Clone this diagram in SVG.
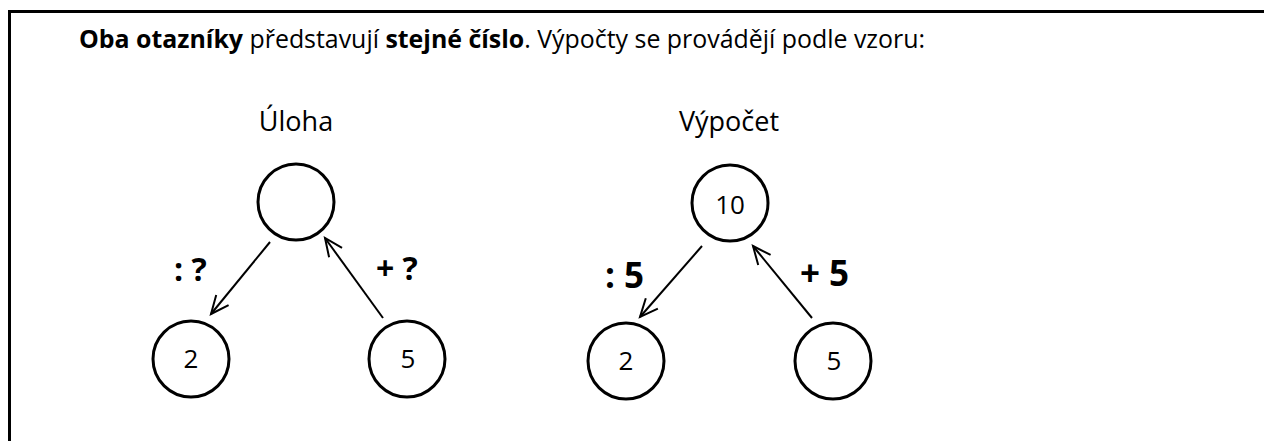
<svg xmlns="http://www.w3.org/2000/svg" width="1264" height="441" viewBox="0 0 1264 441">
<style>
text{font-family:"Open Sans","Noto Sans","DejaVu Sans",sans-serif;fill:#000}
.t{font-size:25px}
.b{font-weight:bold}
.h{font-size:27px;text-anchor:middle}
.n{font-size:26px;text-anchor:middle}
.lab{font-size:32px;font-weight:bold}
.lab2{font-size:35px;font-weight:bold}
circle{fill:#fff;stroke:#000;stroke-width:3}
.c line{stroke:#000;stroke-width:2;marker-end:url(#ah)}
</style>
<defs>
<marker id="ah" markerUnits="userSpaceOnUse" markerWidth="24" markerHeight="24" viewBox="-20 -12 24 24" refX="0" refY="0" orient="auto">
<path d="M-18,-8 L0,0 L-18,8" fill="none" stroke="#000" stroke-width="2"/>
</marker>
</defs>
<rect width="1264" height="441" fill="#fff"/>
<path d="M9.5,441 L9.5,11.5 L1264,11.5" fill="none" stroke="#000" stroke-width="3"/>
<g id="title">
<text class="t" x="79" y="48" textLength="846" lengthAdjust="spacingAndGlyphs"><tspan class="b">Oba otazníky</tspan> představují <tspan class="b">stejné číslo</tspan>. Výpočty se provádějí podle vzoru:</text>
</g>
<g id="head-uloha"><text class="h" x="296" y="131">Úloha</text></g>
<g id="head-vypocet"><text class="h" x="729" y="131">Výpočet</text></g>
<g id="u-top"><circle cx="296" cy="202" r="38"/></g>
<g id="u-left"><circle cx="191" cy="359" r="38"/><text class="n" x="191" y="368">2</text></g>
<g id="u-right"><circle cx="407" cy="359" r="38"/><text class="n" x="408" y="368">5</text></g>
<g id="v-top"><circle cx="730" cy="203" r="38"/><text class="n" x="730" y="214">10</text></g>
<g id="v-left"><circle cx="626" cy="361" r="38"/><text class="n" x="626" y="370">2</text></g>
<g id="v-right"><circle cx="833" cy="361" r="38"/><text class="n" x="834" y="370">5</text></g>
<g class="c" id="connectors">
<line x1="270" y1="242" x2="211" y2="314"/>
<line x1="383" y1="318" x2="325" y2="238"/>
<line x1="702" y1="246" x2="640" y2="317"/>
<line x1="812" y1="318" x2="753" y2="246"/>
</g>
<g id="labels">
<text class="lab" x="174" y="281">: ?</text>
<text class="lab" x="376" y="280">+ ?</text>
<text class="lab2" x="605" y="288">: 5</text>
<text class="lab2" x="800" y="286">+ 5</text>
</g>
</svg>
